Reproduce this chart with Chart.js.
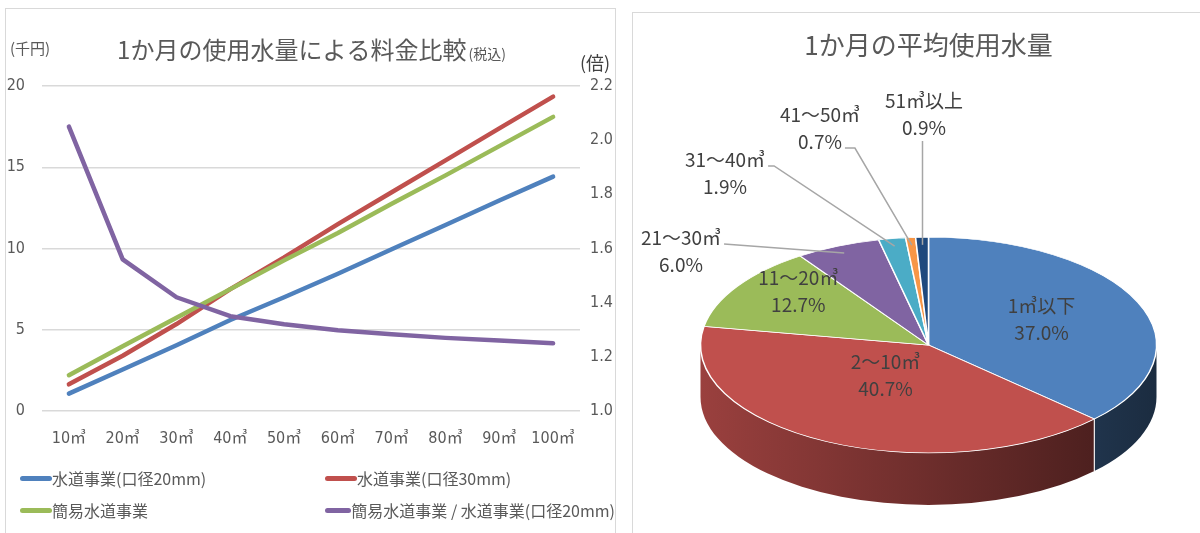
<!DOCTYPE html>
<html lang="ja">
<head>
<meta charset="UTF-8">
<title>使用水量と料金比較</title>
<script src="https://cdn.jsdelivr.net/npm/chart.js@4.4.0/dist/chart.umd.min.js"></script>
<style>
  body { margin: 0; width: 1200px; height: 533px; overflow: hidden; position: relative; background: #fff; }
  .panel { position: absolute; border: 1px solid #d9d9d9; background: #fff; }
  #leftPanel { left: 5px; top: 8px; width: 609px; height: 540px; }
  #rightPanel { left: 632px; top: 12px; width: 600px; height: 540px; }
  canvas { position: absolute; left: 0; top: 0; }
  #legend { position: absolute; left: 14px; top: 453px; display: grid; grid-template-columns: 305px 290px; grid-auto-rows: 32px;
            font-family: 'Noto Sans CJK JP', sans-serif; font-size: 16px; color: #595959; }
  #legend div { display: flex; align-items: center; white-space: nowrap; }
  #legend span.swatch { display: inline-block; width: 32px; height: 5px; border-radius: 3px; }
</style>
</head>
<body>

<div class="panel" id="leftPanel">
  <canvas id="feeChart" width="609" height="524"></canvas>
  <div id="legend"></div>
</div>

<div class="panel" id="rightPanel">
  <canvas id="usageChart" width="567" height="520"></canvas>
</div>

<script>
// ---- 料金比較 (千円 / 倍)
const volumes = ['10㎥', '20㎥', '30㎥', '40㎥', '50㎥', '60㎥', '70㎥', '80㎥', '90㎥', '100㎥'];
const feeWater20 = [1.07, 2.55, 4.05, 5.6, 7.0, 8.45, 9.95, 11.45, 12.95, 14.42];
const feeWater30 = [1.64, 3.4, 5.35, 7.5, 9.45, 11.5, 13.46, 15.42, 17.39, 19.35];
const feeSimple = [2.2, 3.98, 5.74, 7.5, 9.27, 10.96, 12.75, 14.5, 16.3, 18.1];
const ratioSimple = [2.05, 1.56, 1.42, 1.35, 1.32, 1.298, 1.283, 1.27, 1.26, 1.25];
const feeTicks = [0, 5, 10, 15, 20];
const ratioTicks = [1.0, 1.2, 1.4, 1.6, 1.8, 2.0, 2.2];

// ---- 1か月の平均使用水量 (%)
const usageBands = ['1㎥以下', '2～10㎥', '11～20㎥', '21～30㎥', '31～40㎥', '41～50㎥', '51㎥以上'];
const usageShares = [37.0, 40.7, 12.7, 6.0, 1.9, 0.7, 0.9];

const sliceColors = ['#4f81bd', '#c0504d', '#9bbb59', '#8064a2', '#4bacc6', '#f79646', '#1f497d'];
const narrow = "'Liberation Sans Narrow', 'DejaVu Sans Condensed', 'Noto Sans CJK JP', sans-serif";
const jp = "'Noto Sans CJK JP', sans-serif";

// title and unit captions for the line chart
const headerPlugin = {
  id: 'header',
  afterDraw(chart) {
    const ctx = chart.ctx;
    const main = '1か月の使用水量による料金比較';
    const sub = '(税込)';
    ctx.save();
    ctx.fillStyle = '#595959';
    ctx.font = `24px ${jp}`;
    const wMain = ctx.measureText(main).width;
    ctx.font = `14px ${jp}`;
    const wSub = ctx.measureText(sub).width;
    const left = chart.width / 2 - (wMain + wSub) / 2;
    ctx.font = `24px ${jp}`;
    ctx.fillText(main, left, 50);
    ctx.font = `14px ${jp}`;
    ctx.fillText(sub, left + wMain + 2, 50);

    ctx.textBaseline = 'middle';
    ctx.font = `15px ${jp}`;
    ctx.fillText('(千円)', chart.scales.y.left + 4, 39);
    ctx.fillStyle = '#404040';
    ctx.font = `18px ${jp}`;
    ctx.fillText('(倍)', chart.scales.y2.left, 54);
    ctx.restore();
  }
};

const lineStyle = { borderWidth: 4.5, pointRadius: 0, tension: 0, borderCapStyle: 'round', borderJoinStyle: 'round', fill: false };

const feeChart = new Chart(document.getElementById('feeChart'), {
  type: 'line',
  data: {
    labels: volumes,
    datasets: [
      { label: '水道事業(口径20mm)', data: feeWater20, borderColor: '#4f81bd', yAxisID: 'y', order: 3, ...lineStyle },
      { label: '水道事業(口径30mm)', data: feeWater30, borderColor: '#c0504d', yAxisID: 'y', order: 2, ...lineStyle },
      { label: '簡易水道事業', data: feeSimple, borderColor: '#9bbb59', yAxisID: 'y', order: 1, ...lineStyle },
      { label: '簡易水道事業 / 水道事業(口径20mm)', data: ratioSimple, borderColor: '#8064a2', yAxisID: 'y2', order: 0, ...lineStyle }
    ]
  },
  options: {
    responsive: false,
    animation: false,
    layout: { padding: { top: 77 } },
    plugins: { legend: { display: false }, tooltip: { enabled: false } },
    scales: {
      x: {
        offset: true,
        grid: { display: false, drawTicks: false },
        border: { display: false },
        ticks: { color: '#595959', font: { family: narrow, size: 16 }, padding: 18, maxRotation: 0, autoSkip: false },
        afterFit: s => { s.height = 122; }
      },
      y: {
        position: 'left', min: 0, max: 20,
        afterBuildTicks: s => { s.ticks = feeTicks.map(v => ({ value: v })); },
        grid: { color: '#d9d9d9', lineWidth: 1.5, drawTicks: false },
        border: { display: false },
        ticks: { color: '#595959', font: { family: narrow, size: 16 }, padding: 17 },
        afterFit: s => { s.width = 36; }
      },
      y2: {
        position: 'right', min: 1.0, max: 2.2,
        afterBuildTicks: s => { s.ticks = ratioTicks.map(v => ({ value: v })); },
        grid: { display: false, drawTicks: false },
        border: { display: false },
        ticks: { color: '#595959', font: { family: narrow, size: 16 }, padding: 10, callback: v => v.toFixed(1) },
        afterFit: s => { s.width = 35; }
      }
    }
  },
  plugins: [headerPlugin]
});

// two-column legend under the line chart
const legendBox = document.getElementById('legend');
feeChart.data.datasets.forEach(ds => {
  const item = document.createElement('div');
  const sw = document.createElement('span');
  sw.className = 'swatch';
  sw.style.background = ds.borderColor;
  item.appendChild(sw);
  item.appendChild(document.createTextNode(ds.label));
  legendBox.appendChild(item);
});

function shade(hex, f) {
  const n = parseInt(hex.slice(1), 16);
  const r = Math.round(((n >> 16) & 255) * f);
  const g = Math.round(((n >> 8) & 255) * f);
  const b = Math.round((n & 255) * f);
  return `rgb(${r},${g},${b})`;
}

// squash the pie into an ellipse and give it a side wall
const pie3d = {
  id: 'pie3d',
  beforeDatasetsDraw(chart, args, opts) {
    const ctx = chart.ctx;
    const arcs = chart.getDatasetMeta(0).data;
    const colors = chart.data.datasets[0].backgroundColor;
    const { x, y, outerRadius: r } = arcs[0];
    const ry = r * opts.tilt, d = opts.depth;
    arcs.forEach((arc, i) => {
      const a1 = Math.max(arc.startAngle, 0);
      const a2 = Math.min(arc.endAngle, Math.PI);
      if (a2 <= a1) return;
      const g = ctx.createLinearGradient(x - r, 0, x + r, 0);
      g.addColorStop(0, shade(colors[i], 0.8));
      g.addColorStop(1, shade(colors[i], 0.34));
      ctx.beginPath();
      ctx.ellipse(x, y, r, ry, 0, a1, a2);
      ctx.ellipse(x, y + d, r, ry, 0, a2, a1, true);
      ctx.closePath();
      ctx.fillStyle = g;
      ctx.fill();
    });
    ctx.strokeStyle = 'rgba(255,255,255,0.9)';
    ctx.lineWidth = 1.2;
    arcs.forEach(arc => {
      const a = arc.startAngle;
      if (a > 0 && a < Math.PI) {
        const px = x + r * Math.cos(a), py = y + ry * Math.sin(a);
        ctx.beginPath();
        ctx.moveTo(px, py);
        ctx.lineTo(px, py + d);
        ctx.stroke();
      }
    });
    ctx.save();
    ctx.translate(0, y);
    ctx.scale(1, opts.tilt);
    ctx.translate(0, -y);
  },
  afterDatasetsDraw(chart) {
    chart.ctx.restore();
  }
};

// slice captions: inside for the large ones, with leader lines for the small ones
const pieLabels = {
  id: 'pieLabels',
  afterDraw(chart, args, opts) {
    const ctx = chart.ctx;
    const tilt = chart.options.plugins.pie3d.tilt;
    const labels = chart.data.labels;
    const values = chart.data.datasets[0].data;
    const gap = 27;
    ctx.save();
    ctx.font = `19px ${jp}`;
    ctx.fillStyle = '#404040';
    ctx.textAlign = 'center';
    ctx.textBaseline = 'middle';
    chart.getDatasetMeta(0).data.forEach((arc, i) => {
      const mid = (arc.startAngle + arc.endAngle) / 2;
      const at = f => ({
        x: arc.x + f * arc.outerRadius * Math.cos(mid),
        y: arc.y + f * arc.outerRadius * tilt * Math.sin(mid)
      });
      const name = labels[i];
      const pct = values[i].toFixed(1) + '%';
      const spot = opts.spots[i];
      if (spot.inside) {
        const p = at(spot.inside);
        const cy = p.y + spot.lift;
        ctx.fillText(name, p.x, cy - gap / 2);
        ctx.fillText(pct, p.x, cy + gap / 2);
        return;
      }
      ctx.fillText(name, spot.x, spot.y);
      ctx.fillText(pct, spot.x, spot.y + gap);
      const end = at(0.93);
      ctx.strokeStyle = '#a6a6a6';
      ctx.lineWidth = 1.5;
      ctx.beginPath();
      if (spot.from === 'below') {
        ctx.moveTo(end.x, spot.y + gap + 13);
      } else {
        const txt = spot.from === 'name' ? name : pct;
        const ly = spot.from === 'name' ? spot.y : spot.y + gap;
        const sx = spot.x + ctx.measureText(txt).width / 2 + 3;
        ctx.moveTo(sx, ly + 6);
        if (spot.elbow) ctx.lineTo(sx + spot.elbow, ly + 6);
      }
      ctx.lineTo(end.x, end.y);
      ctx.stroke();
    });
    ctx.restore();
  }
};

new Chart(document.getElementById('usageChart'), {
  type: 'pie',
  data: {
    labels: usageBands,
    datasets: [{
      data: usageShares,
      backgroundColor: sliceColors,
      borderColor: '#ffffff',
      borderWidth: 1.5,
      clip: false
    }]
  },
  options: {
    responsive: false,
    animation: false,
    radius: 228,
    layout: { padding: { left: 24 } },
    plugins: {
      legend: { display: false },
      tooltip: { enabled: false },
      title: {
        display: true,
        text: '1か月の平均使用水量',
        color: '#595959',
        font: { family: jp, size: 26, weight: 'normal' },
        padding: { top: 17, bottom: 96 }
      },
      pie3d: { tilt: 0.473, depth: 52 },
      pieLabels: {
        spots: [
          { inside: 0.54, lift: -3 },
          { inside: 0.42, lift: -10 },
          { inside: 0.68, lift: -14 },
          { x: 48, y: 225, from: 'name' },
          { x: 92, y: 147, from: 'name', elbow: 6 },
          { x: 187, y: 102, from: 'pct', elbow: 10 },
          { x: 291, y: 88, from: 'below' }
        ]
      }
    }
  },
  plugins: [pie3d, pieLabels]
});
</script>
</body>
</html>
